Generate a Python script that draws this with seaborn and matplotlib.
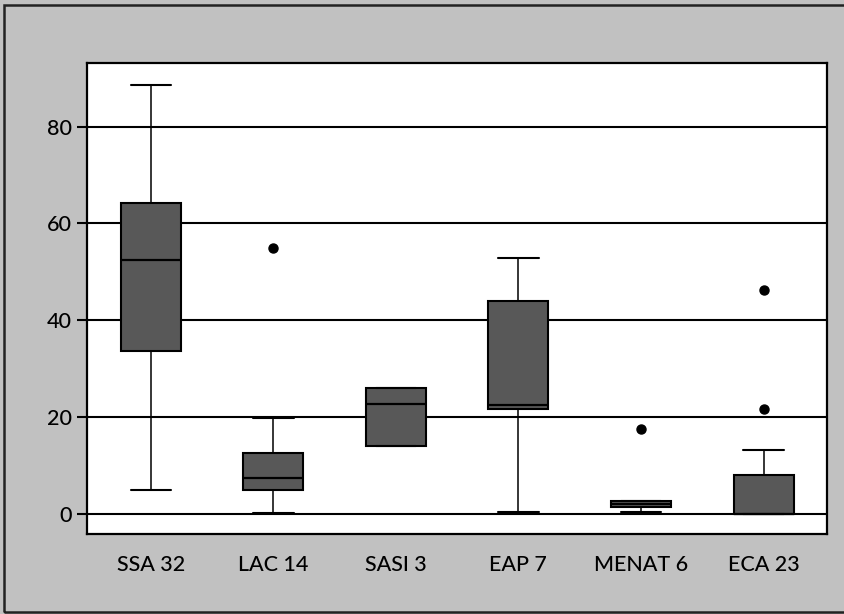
import numpy as np
import matplotlib.pyplot as plt
import matplotlib as mpl
import seaborn as sns

# five-number summaries (share, %)
regions = ["SSA 32", "LAC 14", "SASI 3", "EAP 7", "MENAT 6", "ECA 23"]
whisker_low = [4.9, 0.3, 14.1, 0.35, 0.35, 0.0]
q1 = [33.7, 4.9, 14.1, 21.6, 1.4, 0.0]
medians = [52.4, 7.4, 22.7, 22.6, 2.0, 0.0]
q3 = [64.3, 12.6, 26.1, 43.9, 2.7, 8.0]
whisker_high = [88.6, 19.8, 26.1, 52.8, 2.7, 13.3]
outliers = [[], [54.9], [], [], [17.5], [46.2, 21.6]]
yticks = [0, 20, 40, 60, 80]

sns.set_theme(style="white")
mpl.rcParams["font.family"] = ["Lato", "DejaVu Sans"]
mpl.rcParams["font.weight"] = "medium"
mpl.rcParams["text.color"] = "black"
mpl.rcParams["xtick.color"] = "black"
mpl.rcParams["ytick.color"] = "black"

stats = []
for i, name in enumerate(regions):
    stats.append(dict(label=name, whislo=whisker_low[i], q1=q1[i], med=medians[i],
                      q3=q3[i], whishi=whisker_high[i], fliers=np.array(outliers[i])))

fig = plt.figure(figsize=(8.45, 6.14), dpi=100, facecolor="#c1c1c1")
ax = fig.add_axes([0.103, 0.1303, 0.876, 0.767])
ax.set_facecolor("white")

ax.bxp(stats, positions=range(len(regions)), widths=0.49, capwidths=0.33,
       patch_artist=True,
       boxprops=dict(facecolor="#585858", edgecolor="black", linewidth=1.5),
       medianprops=dict(color="black", linewidth=1.6),
       whiskerprops=dict(color="black", linewidth=1.1),
       capprops=dict(color="black", linewidth=1.5),
       flierprops=dict(marker="o", markerfacecolor="black", markeredgecolor="black",
                       markersize=6.5))

ax.set_axisbelow(True)
ax.yaxis.grid(True, color="black", linewidth=1.5)
ax.xaxis.grid(False)
ax.set_xlim(-0.52, 5.52)
ax.set_ylim(-4.1, 93.1)
ax.set_yticks(yticks)
ax.set_xticks(range(len(regions)))
ax.set_xticklabels(regions)
ax.tick_params(axis="y", left=True, length=7, width=1.5, labelsize=15.5, pad=4)
ax.tick_params(axis="x", bottom=False, labelsize=15.5, pad=9)
for spine in ax.spines.values():
    spine.set_color("black")
    spine.set_linewidth(1.6)

# scanned page frame (open on the right, like the cropped scan)
frame = mpl.patches.Rectangle((4 / 845, 2 / 614), 1.05, 607 / 614, transform=fig.transFigure,
                              fill=False, edgecolor="#222222", linewidth=1.8, clip_on=False)
fig.patches.append(frame)

plt.savefig("out.png", dpi=100, facecolor=fig.get_facecolor())
